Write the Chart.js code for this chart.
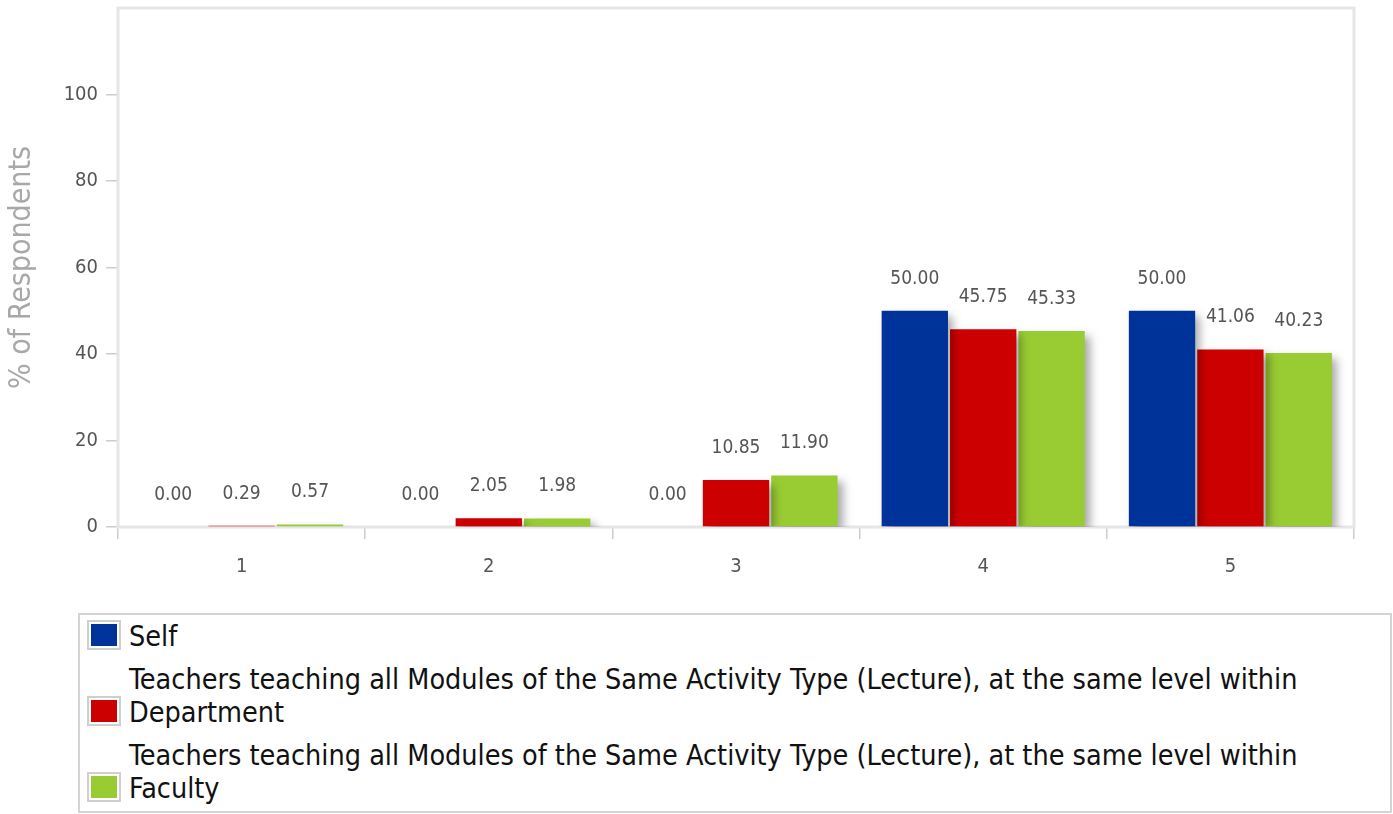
<!DOCTYPE html>
<html>
<head>
<meta charset="utf-8">
<script src="https://cdn.jsdelivr.net/npm/chart.js@4/dist/chart.umd.min.js"></script>
<style>
  html, body { margin: 0; padding: 0; background: #fff; }
  body { width: 1393px; height: 814px; position: relative; overflow: hidden;
         font-family: "DejaVu Sans Condensed", "DejaVu Sans", sans-serif; }
  #wrap { position: absolute; left: 0; top: 0; width: 1393px; height: 600px; }
  #legend { position: absolute; left: 78px; top: 613px; width: 1314px; height: 200px;
            box-sizing: border-box; border: 2px solid #d4d4d4; padding-top: 5px; }
  .item { position: relative; padding-left: 49px; margin-bottom: 10px;
          font-size: 28.5px; line-height: 33px; color: #111; width: 1200px; }
  .box { position: absolute; left: 7px; bottom: 3px; width: 26px; height: 22px;
         border: 2px solid #cfcfcf; padding: 2px; background-clip: content-box; }
</style>
</head>
<body>
<div id="wrap"><canvas id="c"></canvas></div>
<div id="legend"></div>
<script>
const categories = ['1', '2', '3', '4', '5'];
const seriesNames = [
  'Self',
  'Teachers teaching all Modules of the Same Activity Type (Lecture), at the same level within Department',
  'Teachers teaching all Modules of the Same Activity Type (Lecture), at the same level within Faculty'
];
const selfValues = [0.00, 0.00, 0.00, 50.00, 50.00];
const departmentValues = [0.29, 2.05, 10.85, 45.75, 41.06];
const facultyValues = [0.57, 1.98, 11.90, 45.33, 40.23];
const yTicks = [0, 20, 40, 60, 80, 100, 120];
const colors = ['#003399', '#cc0000', '#99cc33'];

const FONT = '"DejaVu Sans Condensed", "DejaVu Sans", sans-serif';

const shadowPlugin = {
  id: 'barShadow',
  beforeDatasetDraw(chart) {
    const ctx = chart.ctx;
    ctx.save();
    ctx.shadowColor = 'rgba(0,0,0,0.35)';
    ctx.shadowOffsetX = 5;
    ctx.shadowOffsetY = 5;
    ctx.shadowBlur = 9;
  },
  afterDatasetDraw(chart) { chart.ctx.restore(); }
};

const framePlugin = {
  id: 'frame',
  beforeDatasetsDraw(chart) {
    const a = chart.chartArea, ctx = chart.ctx;
    ctx.save();
    ctx.strokeStyle = '#e6e6e6';
    ctx.lineWidth = 3;
    ctx.strokeRect(a.left, a.top, a.right - a.left, a.bottom - a.top);
    ctx.restore();
  }
};

const valueLabels = {
  id: 'valueLabels',
  afterDatasetsDraw(chart) {
    const ctx = chart.ctx;
    ctx.save();
    ctx.font = '19px ' + FONT;
    ctx.fillStyle = '#555555';
    ctx.textAlign = 'center';
    ctx.textBaseline = 'middle';
    chart.data.datasets.forEach((ds, i) => {
      const meta = chart.getDatasetMeta(i);
      meta.data.forEach((el, j) => {
        ctx.fillText(ds.data[j].toFixed(2), el.x, el.y - 32);
      });
    });
    ctx.restore();
  }
};

const values = [selfValues, departmentValues, facultyValues];
const chart = new Chart(document.getElementById('c'), {
  type: 'bar',
  data: {
    labels: categories,
    datasets: seriesNames.map((n, i) => ({
      label: n,
      data: values[i],
      backgroundColor: colors[i],
      borderWidth: 0,
      categoryPercentage: 0.83,
      barPercentage: 0.97
    }))
  },
  options: {
    responsive: true,
    maintainAspectRatio: false,
    animation: false,
    layout: { padding: { top: 8, right: 39, left: 0, bottom: 0 } },
    plugins: { legend: { display: false }, tooltip: { enabled: false } },
    scales: {
      x: {
        grid: { offset: true, drawOnChartArea: false, drawTicks: true, tickLength: 12, color: '#cccccc', lineWidth: 1.5 },
        border: { display: false },
        ticks: { color: '#555555', font: { family: FONT, size: 20 }, padding: 16 },
        afterFit(s) { s.height = 73; s.paddingLeft = 0; s.paddingRight = 0; }
      },
      y: {
        min: 0, max: 120,
        afterBuildTicks(s) { s.ticks = yTicks.map(v => ({ value: v })); },
        grid: { drawOnChartArea: false, drawTicks: true, tickLength: 12, color: '#cccccc', lineWidth: 1.5 },
        border: { display: false },
        ticks: {
          color: '#555555', font: { family: FONT, size: 20 }, padding: 8,
          callback: v => (v === 120 ? null : String(v))
        },
        title: { display: true, text: '% of Respondents', color: '#a8a8a8',
                 font: { family: FONT, size: 30 }, padding: { top: 4, bottom: 0 } },
        afterFit(s) { s.width = 118; s.paddingTop = 0; s.paddingBottom = 0; }
      }
    }
  },
  plugins: [framePlugin, shadowPlugin, valueLabels]
});

const legend = document.getElementById('legend');
seriesNames.forEach((n, i) => {
  const item = document.createElement('div');
  item.className = 'item';
  const box = document.createElement('span');
  box.className = 'box';
  box.style.backgroundColor = colors[i];
  item.appendChild(box);
  item.appendChild(document.createTextNode(n));
  legend.appendChild(item);
});
</script>
</body>
</html>
